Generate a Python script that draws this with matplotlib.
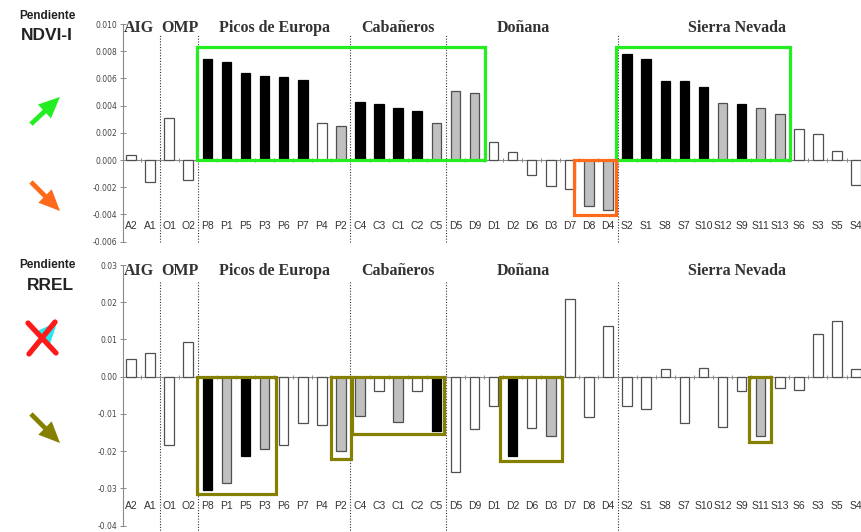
import matplotlib
matplotlib.use('Agg')
import matplotlib.pyplot as plt
import matplotlib.transforms as mtransforms
from matplotlib.patches import Rectangle, FancyArrowPatch
from matplotlib.lines import Line2D

# ---------------- data ----------------
categories = ["A2", "A1", "O1", "O2", "P8", "P1", "P5", "P3", "P6", "P7", "P4", "P2",
              "C4", "C3", "C1", "C2", "C5", "D5", "D9", "D1", "D2", "D6", "D3", "D7",
              "D8", "D4", "S2", "S1", "S8", "S7", "S10", "S12", "S9", "S11", "S13",
              "S6", "S3", "S5", "S4"]

group_names = ["AIG", "OMP", "Picos de Europa", "Cabañeros", "Doñana", "Sierra Nevada"]
group_sizes = [2, 2, 8, 5, 9, 13]

ndvi_values = [0.0004, -0.0016, 0.0031, -0.0015,
               0.0074, 0.0072, 0.0064, 0.0062, 0.0061, 0.0059, 0.0027, 0.0025,
               0.0043, 0.0041, 0.0038, 0.0036, 0.0027,
               0.0051, 0.0049, 0.0013, 0.0006, -0.0011, -0.0019, -0.0021, -0.0034, -0.0037,
               0.0078, 0.0074, 0.0058, 0.0058, 0.0054, 0.0042, 0.0041, 0.0038, 0.0034,
               0.0023, 0.0019, 0.0007, -0.0018]
# k = black, g = grey, w = white
ndvi_class = "wwww" "kkkkkkwg" "kkkkg" "ggwwwwwgg" "kkkkkgkggwwww"

rrel_values = [0.0048, 0.0065, -0.0182, 0.0092,
               -0.0304, -0.0286, -0.0213, -0.0193, -0.0184, -0.0123, -0.0129, -0.0200,
               -0.0106, -0.0037, -0.0121, -0.0037, -0.0145,
               -0.0256, -0.0140, -0.0078, -0.0212, -0.0139, -0.0160, 0.0210, -0.0109, 0.0137,
               -0.0079, -0.0087, 0.0020, -0.0125, 0.0023, -0.0136, -0.0038, -0.0160, -0.0030,
               -0.0035, 0.0116, 0.0149, 0.0021]
rrel_class = "wwww" "kgkgwwwg" "gwgwk" "wwwkwgwww" "wwwwwwwgwwwww"

ndvi_ticks = [0.010, 0.008, 0.006, 0.004, 0.002, 0.000, -0.002, -0.004, -0.006]
rrel_ticks = [0.03, 0.02, 0.01, 0.00, -0.01, -0.02, -0.03, -0.04]

# highlight boxes: (x0, x1, y0, y1) in category / value units
ndvi_boxes_up = [(3.45, 18.54, 0.0, 0.0083), (25.4, 34.54, 0.0, 0.0083)]
ndvi_boxes_down = [(23.2, 25.4, -0.00405, 0.0)]
rrel_boxes = [(3.44, 7.6, -0.0315, 0.0), (10.47, 11.51, -0.0221, 0.0),
              (11.57, 16.4, -0.0154, 0.0), (19.34, 22.57, -0.0227, 0.0),
              (32.39, 33.53, -0.0175, 0.0)]

# ---------------- style ----------------
W, H = 862, 532
fig = plt.figure(figsize=(W / 100, H / 100), dpi=100)
fig.patch.set_facecolor('white')

fill = {'k': 'black', 'g': '#c0c0c0', 'w': 'white'}
edge = {'k': 'black', 'g': '#505050', 'w': '#505050'}
SPINE = '#8a8a8a'
GREEN = '#22ee22'
ORANGE = '#ff6a1a'
OLIVE = '#858000'
title_nudge = {"AIG": -0.08, "OMP": 0.06, "Doñana": -0.45, "Sierra Nevada": -0.24}

x = list(range(len(categories)))
boundaries = []
acc = 0
for s in group_sizes[:-1]:
    acc += s
    boundaries.append(acc - 0.5)
centers = []
acc = 0
for s in group_sizes:
    centers.append(acc + (s - 1) / 2)
    acc += s


def px(xp, yp):
    return (xp / W, 1 - yp / H)


def make_axes(top_px, bot_px):
    l, b = 123 / W, 1 - bot_px / H
    return fig.add_axes([l, b, 1 - l, (bot_px - top_px) / H])


def draw_panel(ax, values, classes, ticks, fmt, ylim, label_y, title_y, vtop, vbot):
    cols = [fill[c] for c in classes]
    ecs = [edge[c] for c in classes]
    ax.bar(x, values, width=0.5, color=cols, edgecolor=ecs, linewidth=0.9, zorder=3)
    ax.set_xlim(-0.42, 38.31)
    ax.set_ylim(*ylim)
    for s in ['top', 'right']:
        ax.spines[s].set_visible(False)
    ax.spines['left'].set_color(SPINE)
    ax.spines['left'].set_linewidth(0.8)
    ax.spines['bottom'].set_position(('data', 0))
    ax.spines['bottom'].set_color(SPINE)
    ax.spines['bottom'].set_linewidth(0.8)
    ax.set_yticks(ticks)
    ax.set_yticklabels([fmt.format(t) for t in ticks])
    ax.tick_params(axis='y', direction='inout', length=4, width=0.7, colors=SPINE,
                   labelcolor='#444444', labelsize=5.5, pad=2)
    ax.set_xticks([i + 0.5 for i in x[:-1]])
    ax.set_xticklabels([])
    ax.tick_params(axis='x', direction='inout', length=3, width=0.7, colors=SPINE)
    trans = mtransforms.blended_transform_factory(ax.transData, ax.transAxes)
    for i, c in enumerate(categories):
        ax.text(i, label_y, c, transform=trans, ha='center', va='center',
                fontsize=7.5, family='Liberation Sans', color='#333333')
    for name, cx in zip(group_names, centers):
        cx = cx + title_nudge.get(name, 0.0)
        ax.text(cx, title_y, name, transform=trans, ha='center', va='center',
                fontsize=11.5, family='Liberation Serif', fontweight='bold',
                color='#333333')
    for bx in boundaries:
        ax.add_line(Line2D([bx, bx], [vbot, vtop], transform=trans, color='#333333',
                           lw=0.8, ls=(0, (1, 1.5)), clip_on=False, zorder=2))


# ---------------- top panel ----------------
ax1 = make_axes(24, 241.7)
draw_panel(ax1, ndvi_values, ndvi_class, ndvi_ticks, '{:.3f}', (-0.006, 0.010),
           0.072, 0.98, 0.95, 0.0)
for (x0, x1, y0, y1) in ndvi_boxes_up:
    ax1.add_patch(Rectangle((x0, y0), x1 - x0, y1 - y0, fill=False, ec=GREEN,
                            lw=2.3, zorder=4, clip_on=False))
for (x0, x1, y0, y1) in ndvi_boxes_down:
    ax1.add_patch(Rectangle((x0, y0), x1 - x0, y1 - y0, fill=False, ec=ORANGE,
                            lw=2.3, zorder=4, clip_on=False))

# ---------------- bottom panel ----------------
ax2 = make_axes(265, 525.7)
draw_panel(ax2, rrel_values, rrel_class, rrel_ticks, '{:.2f}', (-0.04, 0.03),
           0.0756, 0.978, 0.94, -0.03)
for (x0, x1, y0, y1) in rrel_boxes:
    ax2.add_patch(Rectangle((x0, y0), x1 - x0, y1 - y0, fill=False, ec=OLIVE,
                            lw=2.3, zorder=4, clip_on=False))

# ---------------- left annotations ----------------
def ftext(xp, yp, s, size):
    fig.text(*px(xp, yp), s, ha='center', va='center', fontsize=size,
             fontweight='bold', family='Liberation Sans', color='#222222')


ftext(47, 16, 'Pendiente', 8.5)
ftext(47, 36, 'NDVI-I', 12.5)
ftext(47, 265, 'Pendiente', 8.5)
ftext(50, 286, 'RREL', 12.5)


def farrow(p0, p1, color):
    fig.add_artist(FancyArrowPatch(px(*p0), px(*p1), transform=fig.transFigure,
                                   arrowstyle='simple,head_length=0.9,head_width=0.8,tail_width=0.2',
                                   mutation_scale=17, color=color, lw=0))


farrow((29, 126), (62, 95), GREEN)
farrow((29, 180), (62, 213), ORANGE)
farrow((29, 412), (62, 445), OLIVE)
farrow((32, 350), (59, 320), '#22e8f0')
fig.add_artist(Line2D([px(28, 323)[0], px(56, 353)[0]], [px(28, 323)[1], px(56, 353)[1]],
                      transform=fig.transFigure, color='#ff1a1a', lw=3.8, solid_capstyle='round'))
fig.add_artist(Line2D([px(55, 322)[0], px(29, 354)[0]], [px(55, 322)[1], px(29, 354)[1]],
                      transform=fig.transFigure, color='#ff1a1a', lw=3.8, solid_capstyle='round'))

fig.savefig('out.png', dpi=100)
